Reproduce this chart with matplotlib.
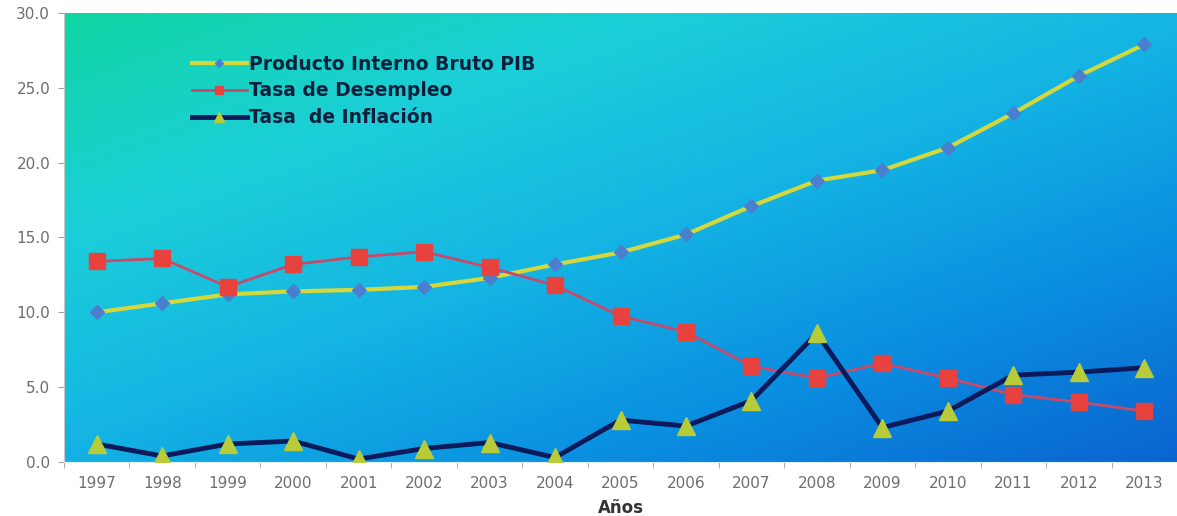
import numpy as np
import matplotlib.pyplot as plt
from matplotlib.colors import LinearSegmentedColormap

# Series por año
anios = [str(a) for a in range(1997, 2014)]
pib = [10.0, 10.6, 11.2, 11.4, 11.5, 11.7, 12.3, 13.2, 14.0, 15.2, 17.1, 18.8, 19.5, 21.0, 23.3, 25.8, 27.9]
desempleo = [13.4, 13.6, 11.7, 13.2, 13.7, 14.05, 13.0, 11.8, 9.75, 8.7, 6.4, 5.6, 6.6, 5.6, 4.5, 4.0, 3.4]
inflacion = [1.2, 0.4, 1.2, 1.4, 0.2, 0.9, 1.3, 0.3, 2.8, 2.4, 4.1, 8.6, 2.3, 3.4, 5.8, 6.0, 6.3]
y_ticks = [0, 5, 10, 15, 20, 25, 30]

fig = plt.figure(figsize=(11.77, 5.16), dpi=100)
ax = fig.add_axes([0.0544, 0.1047, 0.9456, 0.8701])

# fondo degradado: verde-turquesa arriba a la izquierda, azul abajo a la derecha
cmap = LinearSegmentedColormap.from_list(
    'fondo', ['#10d6a4', '#1ccfd8', '#14b4e4', '#0a8ee0', '#0a64d0'])
ny, nx = 200, 400
gx, gy = np.meshgrid(np.linspace(0, 1, nx), np.linspace(0, 1, ny))
grad = 0.55 * gx + 0.6 * gy
grad = grad / grad.max()
ax.imshow(grad, cmap=cmap, extent=[0, 1, 0, 1], transform=ax.transAxes,
          aspect='auto', zorder=0, interpolation='bicubic')

x = np.arange(len(anios))

ax.plot(x, pib, color='#d4d83c', lw=3, marker='D', ms=7,
        mfc='#4a7fd0', mec='#4a7fd0', zorder=3, label='Producto Interno Bruto PIB')
ax.plot(x, desempleo, color='#c84a6a', lw=2, marker='s', ms=11.5,
        mfc='#e8423e', mec='#e8423e', zorder=4, label='Tasa de Desempleo')
ax.plot(x, inflacion, color='#0a1a5a', lw=3.5, marker='^', ms=13,
        mfc='#b8cc3a', mec='#b8cc3a', zorder=5, label='Tasa  de Inflación')

ax.set_xlim(-0.5, len(anios) - 0.5)
ax.set_ylim(0, 30)
ax.set_xticks(x)
ax.set_xticklabels(anios)
ax.set_xticks(np.arange(-0.5, len(anios), 1), minor=True)
ax.set_yticks(y_ticks)
ax.set_yticklabels([f'{v:.1f}' for v in y_ticks])

ax.tick_params(axis='x', which='major', length=0, pad=10, labelsize=11, labelcolor='#6e6e6e')
ax.tick_params(axis='x', which='minor', length=4, color='#a0a0a0')
ax.tick_params(axis='y', length=4, color='#a0a0a0', labelsize=11, labelcolor='#6e6e6e', pad=6)

for s in ['top', 'right']:
    ax.spines[s].set_visible(False)
ax.spines['left'].set_color('#c8c8c8')
ax.spines['bottom'].set_color('#e0f0f8')

ax.set_xlabel('Años', fontsize=12, fontweight='bold', color='#333333', labelpad=6)

leg = ax.legend(loc='upper left', bbox_to_anchor=(0.1, 0.945), frameon=False,
                handlelength=2.9, handletextpad=0.15, labelspacing=0.42,
                markerscale=0.55, prop={'weight': 'bold', 'size': 13.5})
for t in leg.get_texts():
    t.set_color('#0a1f3c')

fig.savefig('out.png', dpi=100)
